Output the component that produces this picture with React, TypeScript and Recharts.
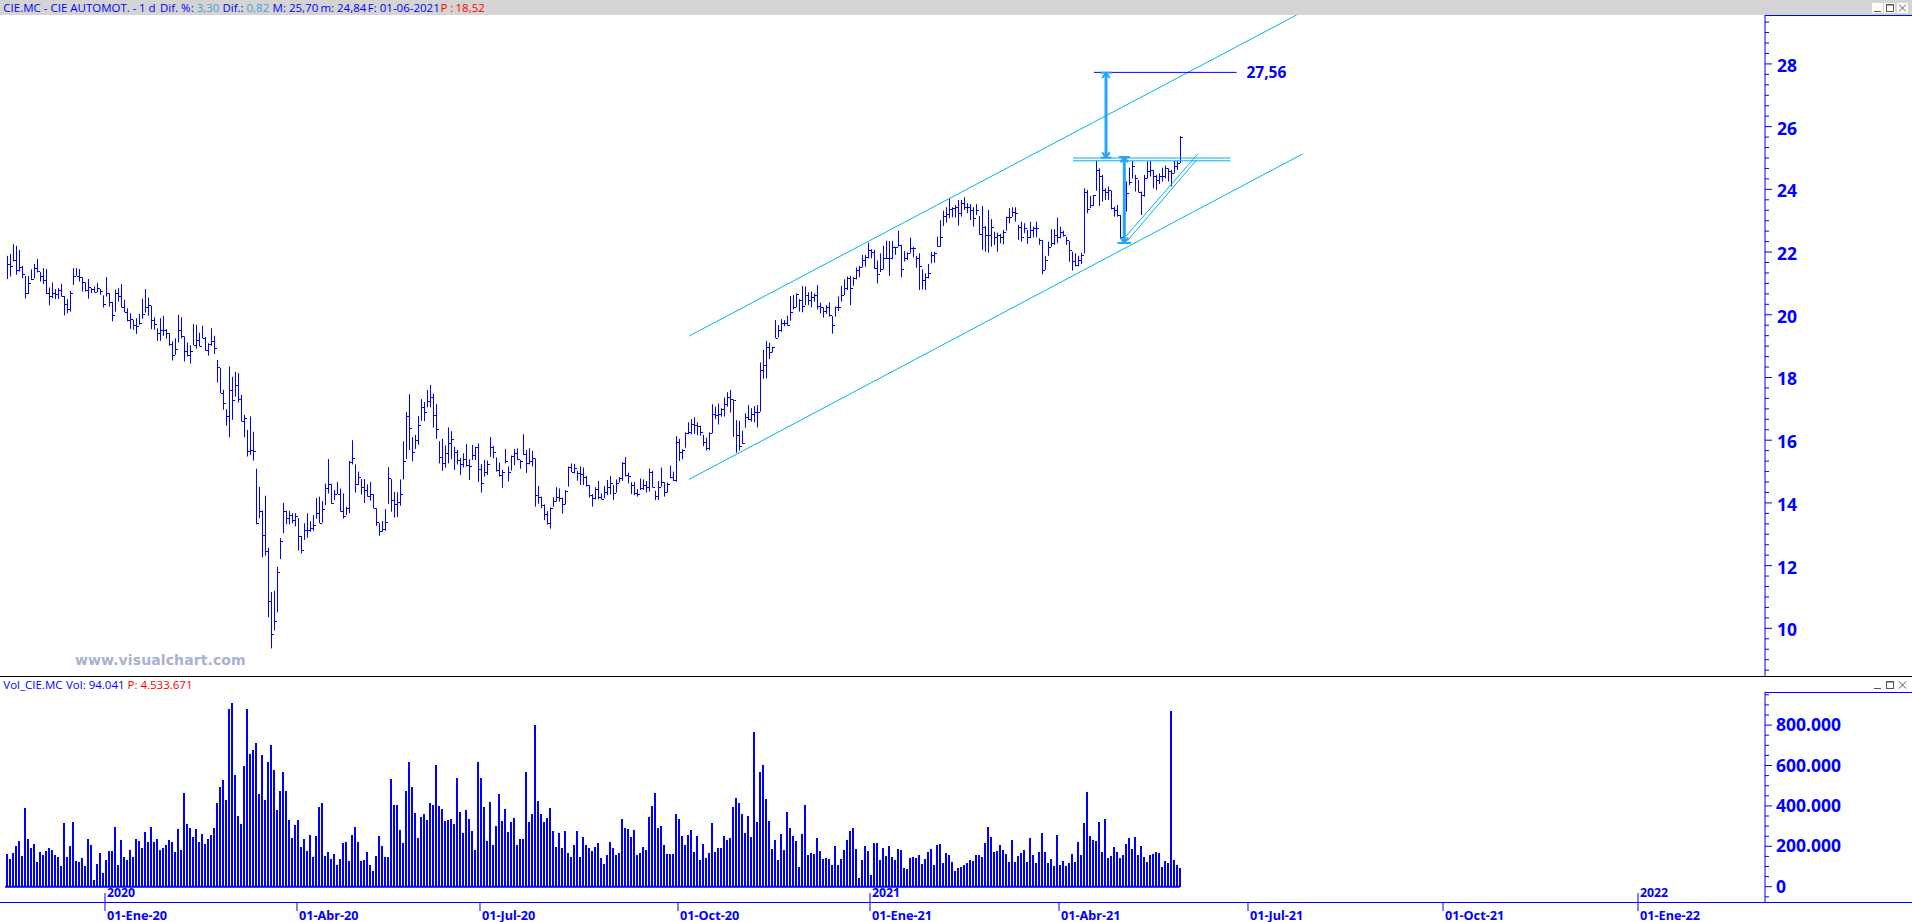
import React from 'react';
import { ComposedChart, Bar, XAxis, YAxis, ReferenceLine, ReferenceDot } from 'recharts';

const HIGHS = [
  21.88, 21.94, 22.25, 22.2, 22.07, 21.56, 21.24, 21.24, 21.45, 21.62, 21.78, 21.36, 21.49, 21.46, 20.87, 21.03, 20.82, 20.85, 20.99, 20.6,
  20.5, 20.76, 21.49, 21.49, 21.46, 21.2, 21.03, 21.14, 20.85, 20.9, 21.01, 20.82, 20.62, 21.2, 20.69, 20.41, 20.8, 20.85, 20.98, 20.48,
  20.21, 20.05, 19.84, 19.89, 20.03, 20.51, 20.82, 20.55, 20.29, 19.92, 19.57, 19.89, 19.97, 19.54, 19.41, 19.15, 19.25, 20.0, 19.92, 19.31,
  19.12, 19.03, 19.7, 19.68, 19.43, 19.65, 19.29, 19.09, 19.57, 19.33, 18.56, 18.3, 17.61, 16.99, 18.35, 18.02, 18.18, 18.14, 17.45, 16.81,
  16.33, 16.76, 16.27, 15.09, 14.51, 13.76, 14.23, 12.57, 11.16, 11.2, 11.96, 12.88, 14.0, 13.75, 13.75, 13.67, 13.67, 13.52, 12.95,
  13.35, 13.67, 13.42, 13.61, 14.16, 14.2, 14.06, 14.62, 15.4, 14.6, 14.41, 14.67, 14.46, 14.3, 13.88, 15.34, 16.0, 15.23, 15.0, 14.76,
  14.76, 14.59, 14.67, 14.28, 13.83, 13.35, 13.42, 13.8, 15.14, 14.76, 14.35, 14.34, 14.75, 15.97, 16.9, 17.47, 16.1, 16.17, 16.77, 17.31,
  17.22, 17.6, 17.76, 17.49, 17.15, 15.97, 16.04, 15.84, 16.41, 16.29, 15.79, 15.69, 15.43, 15.58, 15.88, 15.39, 15.85, 15.79, 15.9, 15.24,
  15.37, 15.35, 16.1, 15.81, 15.45, 15.29, 15.05, 15.72, 15.16, 15.51, 15.72, 15.74, 15.37, 16.19, 15.69, 15.74, 15.66, 15.42, 14.54, 14.2,
  13.95, 13.74, 13.86, 14.18, 14.5, 14.46, 14.17, 14.41, 15.16, 15.26, 15.24, 15.02, 15.16, 15.13, 14.86, 14.57, 14.28, 14.5, 14.7, 14.3,
  14.54, 14.73, 14.86, 14.57, 14.75, 14.82, 15.3, 15.46, 14.96, 14.66, 14.66, 14.44, 14.78, 14.75, 14.7, 15.1, 15.02, 14.39, 14.7, 15.13,
  14.66, 14.65, 15.19, 15.0, 16.13, 16.04, 15.71, 16.25, 16.57, 16.67, 16.73, 16.57, 16.46, 16.17, 16.08, 16.25, 17.15, 17.07, 17.17, 17.02,
  17.36, 17.53, 17.6, 17.3, 16.64, 16.62, 16.3, 16.86, 17.12, 17.02, 17.09, 17.12, 18.48, 18.88, 19.17, 19.11, 18.98, 19.83, 19.67, 19.86,
  19.83, 19.97, 20.6, 20.63, 20.68, 20.5, 20.92, 20.9, 20.72, 20.74, 20.68, 20.95, 20.39, 20.24, 20.31, 20.4, 19.96, 20.26, 20.58, 20.92,
  21.13, 21.22, 21.24, 21.2, 21.51, 21.56, 21.91, 21.91, 22.3, 22.09, 22.07, 21.73, 21.96, 22.2, 22.36, 22.35, 22.36, 22.17, 22.68, 22.23,
  22.03, 21.99, 22.46, 22.17, 21.88, 21.96, 21.45, 21.32, 21.62, 22.01, 22.01, 22.49, 23.02, 23.32, 23.43, 23.72, 23.43, 23.5, 23.66, 23.66,
  23.75, 23.56, 23.53, 23.43, 23.53, 23.15, 23.47, 22.83, 23.34, 23.05, 22.65, 22.62, 22.58, 22.71, 23.13, 23.4, 23.43, 23.43, 22.87, 22.97,
  22.92, 22.71, 22.97, 22.81, 22.97, 22.44, 22.39, 21.88, 22.33, 22.73, 22.73, 23.1, 22.81, 22.68, 22.49, 22.35, 22.01, 21.96, 21.88, 21.98,
  24.03, 23.98, 23.79, 23.82, 24.92, 24.67, 24.46, 24.03, 24.09, 23.96, 23.45, 23.5, 23.18, 23.66, 24.25, 24.69, 24.91, 24.46, 24.3, 23.93,
  24.46, 24.89, 24.91, 24.62, 24.46, 24.51, 24.69, 24.76, 24.67, 24.62, 24.91, 24.91, 25.7,
];

const LOWS = [
  21.14, 21.22, 21.7, 21.28, 21.38, 21.17, 20.52, 20.66, 21.11, 21.16, 21.35, 21.06, 20.98, 20.66, 20.3, 20.53, 20.5, 20.5, 20.58, 19.98,
  20.05, 20.1, 20.95, 21.24, 21.06, 20.74, 20.74, 20.51, 20.69, 20.71, 20.72, 20.64, 20.23, 20.58, 20.26, 19.79, 20.1, 20.42, 20.23, 20.08,
  19.79, 19.55, 19.52, 19.39, 19.68, 19.87, 20.07, 19.97, 19.54, 19.52, 19.17, 19.17, 19.33, 19.24, 19.01, 18.54, 18.72, 19.12, 19.25, 18.51,
  18.67, 18.44, 19.03, 18.92, 18.99, 19.25, 18.85, 18.7, 19.01, 18.75, 17.84, 17.5, 16.97, 16.46, 16.09, 16.65, 17.39, 17.2, 16.6, 16.09,
  15.48, 15.53, 15.35, 13.32, 13.51, 12.26, 12.32, 10.35, 9.36, 9.93, 10.51, 12.21, 13.03, 13.32, 13.32, 13.35, 13.25, 12.48, 12.39,
  12.82, 12.89, 13.08, 13.11, 13.5, 13.35, 13.37, 13.93, 14.3, 13.97, 14.09, 14.28, 13.72, 13.5, 13.61, 13.67, 15.23, 14.33, 14.57, 14.26,
  14.0, 14.2, 14.07, 13.83, 13.27, 12.95, 13.08, 13.11, 13.97, 13.72, 13.53, 13.55, 13.91, 14.75, 15.4, 15.69, 15.32, 15.72, 15.85, 16.62,
  16.61, 17.05, 17.05, 16.4, 16.04, 15.26, 15.02, 15.12, 15.26, 15.39, 15.05, 15.23, 14.89, 15.13, 15.16, 14.73, 15.37, 15.37, 14.67, 14.33,
  14.84, 14.89, 15.47, 15.42, 15.0, 14.84, 14.48, 15.26, 14.68, 15.03, 15.21, 15.37, 15.09, 15.53, 14.96, 15.23, 15.16, 13.88, 13.97, 13.83,
  13.45, 13.31, 13.18, 13.88, 14.04, 14.04, 13.66, 13.95, 14.52, 14.98, 14.94, 14.71, 14.57, 14.57, 14.52, 14.17, 13.88, 14.11, 14.11, 14.11,
  14.15, 14.25, 14.27, 14.09, 14.33, 14.65, 14.7, 14.84, 14.62, 14.28, 14.25, 14.2, 14.41, 14.41, 14.33, 14.36, 14.49, 14.09, 14.09, 14.52,
  14.2, 14.33, 14.78, 14.7, 14.68, 15.34, 15.39, 15.76, 16.19, 16.19, 16.2, 16.16, 16.14, 15.81, 15.67, 15.69, 16.22, 16.67, 16.5, 16.75,
  16.75, 17.07, 16.88, 16.11, 15.6, 15.67, 15.88, 16.4, 16.64, 16.59, 16.57, 16.41, 16.91, 17.96, 17.97, 18.59, 18.8, 19.25, 19.28, 19.46,
  19.64, 19.65, 19.81, 20.17, 20.24, 20.1, 20.08, 20.31, 20.31, 20.24, 20.42, 20.17, 20.05, 19.91, 20.03, 19.94, 19.4, 19.94, 20.12, 20.42,
  20.63, 20.79, 20.31, 20.92, 21.13, 21.2, 21.51, 21.53, 21.8, 21.8, 21.46, 21.0, 21.36, 21.45, 21.78, 21.24, 21.77, 21.91, 22.17, 21.19,
  21.7, 21.75, 21.96, 21.83, 21.5, 20.79, 20.81, 20.79, 21.16, 21.64, 21.66, 22.17, 22.17, 22.83, 22.94, 23.08, 23.11, 23.1, 22.84, 23.13,
  23.34, 23.24, 23.02, 22.81, 23.18, 22.55, 22.07, 22.01, 21.98, 22.17, 22.23, 22.01, 22.28, 22.25, 22.68, 22.92, 23.13, 22.97, 22.39, 22.33,
  22.6, 22.26, 22.44, 22.47, 22.47, 22.23, 21.29, 21.43, 21.88, 22.17, 22.23, 22.28, 22.44, 22.49, 22.23, 21.69, 21.41, 21.54, 21.54, 21.62,
  21.96, 23.24, 23.4, 23.47, 23.96, 23.47, 23.61, 23.66, 23.66, 23.36, 23.13, 23.13, 22.44, 22.41, 23.29, 24.14, 24.35, 23.93, 23.9, 23.18,
  23.77, 24.35, 24.41, 24.03, 23.98, 24.17, 24.25, 24.35, 24.25, 24.09, 24.51, 24.62, 24.84,
];

const CLOSES = [
  21.62, 21.56, 21.75, 21.43, 21.52, 21.29, 20.69, 21.01, 21.14, 21.49, 21.38, 21.24, 21.11, 20.71, 20.6, 20.69, 20.67, 20.8, 20.6, 20.35,
  20.18, 20.69, 21.24, 21.24, 21.22, 21.03, 20.8, 20.9, 20.82, 20.72, 20.85, 20.77, 20.34, 20.71, 20.42, 19.98, 20.69, 20.6, 20.26, 20.1,
  19.84, 19.86, 19.68, 19.65, 19.73, 20.03, 20.26, 20.32, 19.84, 19.71, 19.43, 19.52, 19.52, 19.41, 19.07, 18.72, 18.9, 19.52, 19.31, 18.83,
  18.72, 18.83, 19.04, 19.2, 19.01, 19.26, 18.88, 19.07, 19.15, 18.93, 18.33, 17.52, 17.18, 16.76, 17.61, 17.27, 17.77, 17.31, 16.62, 16.7,
  15.64, 15.69, 15.66, 13.35, 13.73, 12.98, 12.48, 10.86, 9.81, 10.22, 11.79, 12.77, 13.75, 13.51, 13.62, 13.46, 13.57, 12.95, 12.49,
  13.14, 13.14, 13.19, 13.28, 13.67, 13.37, 13.79, 14.46, 14.6, 14.01, 14.28, 14.3, 13.74, 13.59, 13.83, 15.31, 15.42, 14.6, 14.84, 14.52,
  14.41, 14.22, 14.28, 13.85, 13.4, 13.1, 13.16, 13.39, 14.81, 14.09, 13.97, 14.04, 14.3, 15.35, 16.77, 16.38, 15.61, 16.0, 16.48, 17.05,
  16.89, 17.26, 17.37, 16.8, 16.35, 15.45, 15.28, 15.58, 15.9, 16.03, 15.63, 15.37, 15.23, 15.39, 15.21, 15.18, 15.53, 15.77, 15.08, 14.62,
  15.0, 15.23, 15.77, 15.63, 15.05, 14.89, 14.97, 15.34, 15.0, 15.5, 15.58, 15.4, 15.34, 15.56, 15.26, 15.35, 15.44, 14.25, 14.18, 13.93,
  13.65, 13.35, 13.83, 14.07, 14.2, 14.17, 13.95, 14.39, 15.13, 15.0, 15.1, 14.94, 14.92, 14.82, 14.57, 14.26, 14.15, 14.43, 14.2, 14.12,
  14.36, 14.52, 14.62, 14.33, 14.62, 14.78, 15.26, 14.89, 14.86, 14.57, 14.33, 14.28, 14.47, 14.57, 14.52, 15.0, 14.52, 14.22, 14.52, 14.68,
  14.36, 14.6, 14.82, 14.73, 15.95, 15.63, 15.69, 16.22, 16.27, 16.52, 16.49, 16.45, 16.27, 15.95, 15.74, 16.22, 16.84, 16.8, 16.84, 16.99,
  17.17, 17.37, 17.3, 17.28, 16.17, 15.81, 15.9, 16.75, 16.67, 16.84, 16.91, 16.91, 18.24, 18.4, 18.98, 18.8, 18.96, 19.27, 19.51, 19.75,
  19.75, 19.67, 20.08, 20.26, 20.66, 20.47, 20.28, 20.63, 20.47, 20.56, 20.63, 20.29, 20.24, 20.13, 20.26, 19.99, 19.67, 20.26, 20.26, 20.63,
  20.84, 21.16, 20.84, 21.16, 21.43, 21.53, 21.75, 21.85, 22.07, 22.0, 21.48, 21.3, 21.45, 21.8, 21.8, 21.8, 22.17, 22.15, 22.23, 21.45,
  21.8, 21.96, 22.12, 22.12, 21.8, 21.54, 21.11, 21.22, 21.32, 21.91, 21.98, 22.19, 22.49, 23.15, 23.22, 23.36, 23.4, 23.43, 23.24, 23.58,
  23.43, 23.43, 23.34, 23.08, 23.34, 22.58, 22.81, 22.55, 22.55, 22.81, 22.49, 22.55, 22.49, 22.65, 23.11, 23.13, 23.29, 23.24, 22.81, 22.49,
  22.76, 22.49, 22.71, 22.76, 22.76, 22.39, 21.43, 21.75, 22.17, 22.28, 22.55, 22.49, 22.65, 22.55, 22.39, 22.07, 21.73, 21.59, 21.75, 21.91,
  23.93, 23.36, 23.5, 23.82, 24.62, 24.41, 23.98, 23.93, 23.98, 23.4, 23.34, 23.18, 22.49, 23.24, 23.87, 24.25, 24.73, 24.35, 23.93, 23.82,
  24.35, 24.57, 24.62, 24.41, 24.3, 24.41, 24.41, 24.67, 24.57, 24.51, 24.73, 24.85, 25.66,
];

// thousands of shares
const VOLUMES = [
  163, 139, 168, 203, 228, 153, 391, 238, 193, 213, 124, 173, 158, 178, 193, 183, 158, 149, 104, 317,
  149, 203, 322, 129, 124, 144, 104, 238, 208, 35, 114, 168, 69, 134, 178, 178, 297, 109, 233, 149,
  134, 183, 149, 238, 228, 193, 272, 223, 297, 223, 238, 183, 193, 208, 233, 223, 173, 287, 183, 465,
  312, 292, 248, 287, 223, 262, 213, 238, 257, 292, 416, 495, 530, 431, 881, 911, 554, 351, 312, 599, 881,
  658, 678, 713, 460, 653, 431, 619, 703, 579, 381, 475, 569, 475, 332, 243, 307, 332, 198, 238, 178,
  257, 149, 252, 396, 416, 153, 173, 139, 163, 109, 139, 218, 223, 129, 257, 297, 223, 129, 134, 173,
  109, 79, 153, 252, 203, 149, 149, 535,
  406, 406, 282, 218, 475, 619, 495, 366, 243, 347, 361, 332, 416, 406, 604, 401, 386, 327, 332, 337,
  312, 540, 371, 267, 381, 337, 277, 183, 619,
  540, 396, 228, 421, 208, 302, 460, 327, 386, 272, 322, 342, 208, 238, 238, 569, 322, 361, 802,
  426, 361, 322, 342, 391, 277, 198, 267, 193, 277, 168, 149, 208, 277, 149, 248, 208, 193, 178, 198,
  218, 144, 114, 158, 223, 193, 158, 168, 337, 292, 287, 248, 282, 158, 168,
  198, 183, 347, 401, 465, 292, 302, 208, 163, 163, 163, 361, 337, 252, 208, 257, 282, 173, 252, 134,
  213, 144, 168, 317, 173, 193, 193, 252, 233, 243, 396, 441, 416, 361, 267, 351, 248, 767, 322, 569,
  604, 436, 327, 188, 233, 134, 262, 183, 371, 292, 252, 228, 99, 262, 406, 158, 168, 163, 243, 178,
  139, 144, 139, 109, 203, 109, 139, 183, 233, 277, 292, 188, 45, 134, 203, 178, 59, 218, 218, 134,
  193, 153, 203, 149, 134, 188, 183, 94, 89, 144, 149, 144, 158, 114, 139, 173, 188, 109, 208, 213,
  119, 168, 158, 124, 79, 94, 99, 109, 119, 134, 129, 158, 158, 149, 218, 297, 248, 173, 178, 208,
  183, 163, 124, 233, 124, 153, 168, 183, 124, 243, 158, 119, 173, 267, 173, 119, 139, 104, 257, 109,
  129, 104, 119, 163, 124, 223, 158, 317, 470, 252, 233, 228, 322, 173, 337, 144, 153, 198, 173, 144,
  158, 213, 243, 188, 248, 158, 203, 149, 124, 158, 163, 173, 168, 99, 129, 119, 871, 134, 109, 94,
];

const DATE_TICKS = [33, 97, 158, 224, 288, 351, 414, 479, 544];
const DATE_LABELS = ['01-Ene-20', '01-Abr-20', '01-Jul-20', '01-Oct-20', '01-Ene-21', '01-Abr-21', '01-Jul-21', '01-Oct-21', '01-Ene-22'];
const YEAR_LABELS: Record<number, string> = { 33: '2020', 288: '2021', 544: '2022' };

const priceRows = HIGHS.map((high, i) => ({ i, range: [LOWS[i], high], high, low: LOWS[i], close: CLOSES[i] }));
const volumeRows = VOLUMES.map((v, i) => ({ i, volume: v * 1000 }));

const BLUE = '#0000ff';
const CHANNEL = '#00b4e4';
const ARROW = '#22a4ff';
const AXIS_X = 1765;
const X_DOMAIN = [-2, 586.33];
const AXIS_FONT = '"Noto Sans", sans-serif';

// trend lines drawn on the chart, [x1, y1, x2, y2] in bar index and price
const CHANNEL_LINES = [
  [227.67, 19.32, 430.2, 29.56],
  [227.67, 14.75, 432.2, 25.13],
  [355.67, 25.0, 408.2, 25.0],
  [355.67, 24.91, 408.2, 24.91],
  [373, 22.47, 397.3, 25.13],
  [373.8, 22.36, 396.9, 24.94],
];

const ARROW_LINES = [
  [366.67, 27.73, 366.67, 25.0],
  [364.9, 27.72, 368.5, 27.72],
  [365.4, 27.55, 366.67, 27.72],
  [367.9, 27.55, 366.67, 27.72],
  [364.9, 25.01, 368.5, 25.01],
  [365.4, 25.18, 366.67, 25.01],
  [367.9, 25.18, 366.67, 25.01],
  [372.77, 25.02, 372.77, 22.31],
  [370.9, 25.03, 374.6, 25.03],
  [371.5, 24.86, 372.77, 25.03],
  [374.0, 24.86, 372.77, 25.03],
  [370.5, 22.29, 375.0, 22.29],
  [371.5, 22.46, 372.77, 22.29],
  [374.0, 22.46, 372.77, 22.29],
];

const priceTicks: number[] = [];
for (let k = 26; k <= 88; k++) priceTicks.push(k / 3);
const volumeTicks: number[] = [];
for (let v = -50000; v <= 950000; v += 50000) volumeTicks.push(v);

const OhlcBar = (props: any) => {
  const { x, y, width, height, payload } = props;
  const cx = Math.round(x + width / 2);
  const top = Math.min(y, y + height);
  const h = Math.abs(height);
  const closeY = top + ((payload.high - payload.close) / (payload.high - payload.low)) * h;
  return (
    <g>
      <rect x={cx} y={top} width={1} height={h} fill={BLUE} />
      <rect x={cx + 1} y={Math.round(closeY)} width={2} height={1} fill={BLUE} />
    </g>
  );
};

// snapped to whole pixels so the bars stay solid blue
const VolumeBar = (props: any) => {
  const { x, y, height } = props;
  return <rect x={Math.round(x)} y={Math.round(y)} width={2} height={Math.round(height)} fill={BLUE} />;
};

const PriceTick = (props: any) => {
  const { y, payload } = props;
  const v = payload.value;
  const major = Math.abs(v / 2 - Math.round(v / 2)) < 0.001 && v >= 10;
  return (
    <g>
      <line x1={AXIS_X} x2={AXIS_X + (major ? 7 : 4)} y1={y} y2={y} stroke={BLUE} />
      {major && (
        <text x={AXIS_X + 12} y={y + 8} fill={BLUE} fontFamily={AXIS_FONT} fontWeight={700} fontSize={17.5}>
          {v}
        </text>
      )}
    </g>
  );
};

const VolumeTick = (props: any) => {
  const { y, payload } = props;
  const v = payload.value;
  const major = v >= 0 && v % 200000 === 0;
  return (
    <g>
      <line x1={AXIS_X} x2={AXIS_X + (major ? 7 : 4)} y1={y} y2={y} stroke={BLUE} />
      {major && (
        <text x={AXIS_X + 11} y={y + 6} fill={BLUE} fontFamily={AXIS_FONT} fontWeight={700} fontSize={17.5}>
          {v === 0 ? '0' : `${v / 1000}.000`}
        </text>
      )}
    </g>
  );
};

const DateTick = (props: any) => {
  const { x, y, payload } = props;
  const year = YEAR_LABELS[payload.value];
  const label = DATE_LABELS[DATE_TICKS.indexOf(payload.value)];
  const base = y;
  return (
    <g fontFamily={AXIS_FONT} fontWeight={700} fill={BLUE}>
      <line x1={x} x2={x} y1={year ? base - 9 : base} y2={base + 9} stroke={BLUE} />
      {year && (
        <text x={x + 2} y={base - 5} fontSize={12.3}>
          {year}
        </text>
      )}
      <text x={x + 2} y={base + 17.5} fontSize={12.7}>
        {label}
      </text>
    </g>
  );
};

const HEADER = [
  { x: 3.3, c: BLUE, t: 'CIE.MC - CIE AUTOMOT. -' },
  { x: 139, c: BLUE, t: '1 d' },
  { x: 160, c: BLUE, t: 'Dif. %:' },
  { x: 196.7, c: '#4a9fdc', t: '3,30' },
  { x: 222.4, c: BLUE, t: 'Dif.:' },
  { x: 246.5, c: '#4a9fdc', t: '0,82' },
  { x: 272.6, c: BLUE, t: 'M: 25,70' },
  { x: 320.4, c: BLUE, t: 'm: 24,84' },
  { x: 367.8, c: BLUE, t: 'F: 01-06-2021' },
  { x: 440.4, c: '#ff0000', t: 'P :' },
  { x: 455.5, c: '#ff0000', t: '18,52' },
];

const VOLUME_HEADER = [
  { x: 3.3, c: BLUE, t: 'Vol_CIE.MC' },
  { x: 66, c: BLUE, t: 'Vol: 94.041' },
  { x: 127.5, c: '#ff0000', t: 'P: 4.533.671' },
];

const HeaderText = ({ items, top }: any) => (
  <>
    {items.map((h: any) => (
      <span
        key={h.t}
        style={{ position: 'absolute', left: h.x, top, color: h.c, fontFamily: '"Open Sans", sans-serif', fontSize: 11.5, lineHeight: '15px', whiteSpace: 'nowrap' }}
      >
        {h.t}
      </span>
    ))}
  </>
);

const WindowButtons = ({ top, boxed }: any) => (
  <svg width={40} height={12} style={{ position: 'absolute', left: 1870, top }}>
    {boxed && (
      <g fill="#ffffff">
        <rect x={2} y={1} width={11} height={10} />
        <rect x={14} y={1} width={11} height={10} />
        <rect x={27} y={1} width={11} height={10} />
      </g>
    )}
    <g stroke="#555555" fill="none">
      <line x1={4} x2={11} y1={9.5} y2={9.5} />
      <rect x={16.5} y={2.5} width={7} height={7} />
      <line x1={16.5} x2={23.5} y1={3} y2={3} />
      <line x1={29} x2={36} y1={2.5} y2={9.5} />
      <line x1={36} x2={29} y1={2.5} y2={9.5} />
    </g>
  </svg>
);

const Hr = ({ left, top, width, color }: any) => (
  <div style={{ position: 'absolute', left, top, width, height: 1, background: color }} />
);

export default function App() {
  return (
    <div style={{ position: 'absolute', left: 0, top: 0, width: 1912, height: 922, overflow: 'hidden', background: '#ffffff' }}>
      <div style={{ position: 'absolute', left: 0, top: 0 }}>
        <ComposedChart width={1912} height={676} data={priceRows} margin={{ top: 15, right: 0, bottom: 0, left: 0 }}>
          <XAxis type="number" dataKey="i" domain={X_DOMAIN} hide allowDataOverflow />
          <YAxis
            orientation="right"
            width={147}
            domain={[8.48, 29.56]}
            ticks={priceTicks}
            interval={0}
            allowDataOverflow
            axisLine={{ stroke: BLUE }}
            tickLine={false}
            tick={<PriceTick />}
          />
          <Bar dataKey="range" barSize={2} shape={<OhlcBar />} isAnimationActive={false} />
          {CHANNEL_LINES.map((l, idx) => (
            <ReferenceLine
              key={`ch-${idx}`}
              segment={[{ x: l[0], y: l[1] }, { x: l[2], y: l[3] }]}
              stroke={CHANNEL}
              ifOverflow="visible"
            />
          ))}
          <ReferenceLine segment={[{ x: 362.67, y: 27.73 }, { x: 410.2, y: 27.73 }]} stroke={BLUE} ifOverflow="visible" />
          {ARROW_LINES.map((l, idx) => (
            <ReferenceLine
              key={`ar-${idx}`}
              segment={[{ x: l[0], y: l[1] }, { x: l[2], y: l[3] }]}
              stroke={ARROW}
              strokeWidth={idx === 0 || idx === 7 ? 3 : 2}
              ifOverflow="visible"
            />
          ))}
          <ReferenceDot
            x={411.8}
            y={27.73}
            r={0}
            stroke="none"
            label={{ value: '27,56', position: 'right', fill: BLUE, fontFamily: AXIS_FONT, fontWeight: 700, fontSize: 15.5 }}
          />
        </ComposedChart>
      </div>

      <div style={{ position: 'absolute', left: 0, top: 677 }}>
        <ComposedChart width={1912} height={245} data={volumeRows} margin={{ top: 15, right: 0, bottom: 0, left: 0 }}>
          <XAxis
            type="number"
            dataKey="i"
            domain={X_DOMAIN}
            ticks={DATE_TICKS}
            interval={0}
            height={20}
            allowDataOverflow
            axisLine={false}
            tickLine={false}
            tickSize={0}
            tickMargin={0}
            tick={<DateTick />}
          />
          <YAxis
            orientation="right"
            width={147}
            domain={[-75700, 963900]}
            ticks={volumeTicks}
            interval={0}
            allowDataOverflow
            axisLine={{ stroke: BLUE }}
            tickLine={false}
            tick={<VolumeTick />}
          />
          <Bar dataKey="volume" barSize={2} fill={BLUE} shape={<VolumeBar />} isAnimationActive={false} />
          <ReferenceLine segment={[{ x: -0.3, y: 0 }, { x: 391.3, y: 0 }]} stroke={BLUE} strokeWidth={2} />
        </ComposedChart>
      </div>

      <div style={{ position: 'absolute', left: 0, top: 0, width: 1912, height: 15, background: '#d4d4d4' }} />
      <HeaderText items={HEADER} top={0} />
      <WindowButtons top={2} boxed />
      <Hr left={1765} top={15} width={147} color={BLUE} />
      <Hr left={0} top={676} width={1912} color="#000000" />
      <HeaderText items={VOLUME_HEADER} top={677} />
      <WindowButtons top={679} />
      <Hr left={1765} top={692} width={147} color={BLUE} />
      <Hr left={0} top={902} width={1912} color={BLUE} />
      <div
        style={{ position: 'absolute', left: 75, top: 651, color: '#aab0d2', fontFamily: '"DejaVu Sans", sans-serif', fontWeight: 700, fontSize: 14, lineHeight: '18px', letterSpacing: 0.1, whiteSpace: 'nowrap' }}
      >
        www.visualchart.com
      </div>
    </div>
  );
}
